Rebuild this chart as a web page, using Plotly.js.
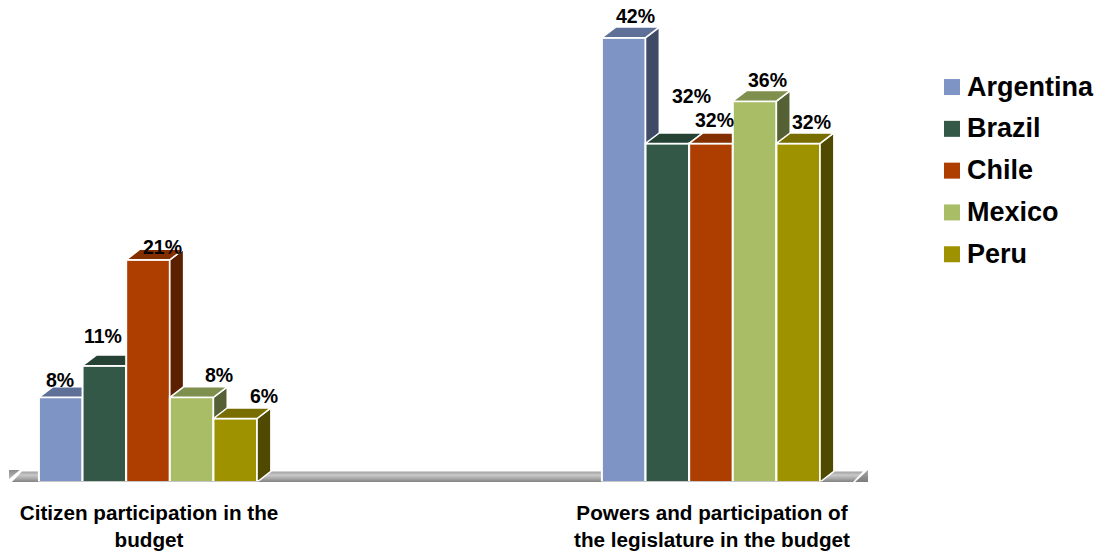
<!DOCTYPE html>
<html>
<head>
<meta charset="utf-8">
<script src="https://cdn.plot.ly/plotly-3.0.1.min.js"></script>
<style>html,body{margin:0;padding:0;background:#fff}#chart{width:1099px;height:552px}</style>
</head>
<body>
<div id="chart"></div>
<script>
// Budget transparency scores by country, two survey dimensions
const categories = ['Citizen participation in the<br>budget', 'Powers and participation of<br>the legislature in the budget'];
const countries = ['Argentina', 'Brazil', 'Chile', 'Mexico', 'Peru'];
const argentina = [8, 42];
const brazil = [11, 32];
const chile = [21, 32];
const mexico = [8, 36];
const peru = [6, 32];
const seriesValues = [argentina, brazil, chile, mexico, peru];

const frontColors = ['#7e94c4', '#335848', '#ae3e00', '#a8bd66', '#9f9200'];
const topColors = ['#5f7098', '#264234', '#842f00', '#7e8f4e', '#786e00'];
const sideColors = ['#3f4b66', '#1a2c23', '#5a2000', '#556135', '#504900'];

// Label nudges in pixels, relative to each bar's top centre
const labelShiftX = [[-1, -1, 14, 27, 29], [12, 24, 4, 13, 13]];
const labelShiftY = [[17, 30, 12.5, 22, 23], [22, 47, 23, 21, 21]];

// Axis scale and extruded-bar geometry
const xRange = [-0.2469, 1.2789];
const yRange = [0, 45.56];
const categoryPositions = categories.map((_, c) => c);
const tickPositions = categoryPositions.map(c => c + 0.0018);
const barWidth = 0.0775;
const depthX = 0.0245;
const depthY = 1.0;
const WHITE = '#ffffff';

const xAxisBase = {range: xRange, type: 'linear', tickmode: 'array', tickvals: tickPositions, ticktext: categories,
  showgrid: false, zeroline: false, showline: false, ticks: ''};
const yAxisBase = {range: yRange, showgrid: false, zeroline: false, showline: false,
  showticklabels: false, ticks: ''};

const traces = [];

// Floor slab: main strip with a vertical gradient and the two end wedges
const floorLeft = xRange[0] + 0.0053;
const floorRight = xRange[1] - 0.0267;
const floorGradient = {type: 'vertical', colorscale: [[0, '#7f7f7f'], [0.3, '#a6a6a6'], [0.65, '#c8c8c8'], [1, '#a0a0a0']]};
traces.push({type: 'scatter', mode: 'lines', xaxis: 'x', yaxis: 'y', showlegend: false, hoverinfo: 'skip',
  x: [floorLeft, floorRight, xRange[1] - 0.0089, xRange[0] + 0.0231, floorLeft],
  y: [0, 0, depthY, depthY, 0],
  fill: 'toself', fillgradient: floorGradient, line: {width: 0}});
traces.push({type: 'scatter', mode: 'lines', xaxis: 'x', yaxis: 'y', showlegend: false, hoverinfo: 'skip',
  x: [xRange[0], xRange[0] + 0.019, xRange[0], xRange[0]],
  y: [1.14, 1.14, 0.28, 1.14],
  fill: 'toself', fillgradient: {type: 'vertical', colorscale: [[0, '#b8b8b8'], [1, '#8c8c8c']]}, line: {width: 0}});
traces.push({type: 'scatter', mode: 'lines', xaxis: 'x', yaxis: 'y', showlegend: false, hoverinfo: 'skip',
  x: [xRange[1] - 0.023, xRange[1], xRange[1], xRange[1] - 0.023],
  y: [0, 0, 1.14, 0],
  fill: 'toself', fillgradient: {type: 'vertical', colorscale: [[0, '#7c7c7c'], [1, '#a8a8a8']]}, line: {width: 0}});

const layout = {
  width: 1099, height: 552,
  margin: {l: 9, r: 231, t: 0, b: 70},
  paper_bgcolor: WHITE, plot_bgcolor: 'rgba(0,0,0,0)',
  font: {family: '"Liberation Sans", Arial, sans-serif', color: '#000000'},
  xaxis: Object.assign({}, xAxisBase, {tickfont: {size: 20.7, color: '#000000', weight: 'bold'}, automargin: false,
     ticklabelstandoff: 16}),
  yaxis: Object.assign({}, yAxisBase),
  showlegend: true,
  legend: {x: 927 / 1099, xanchor: 'left', y: 1 - 61 / 552, yanchor: 'top', xref: 'container', yref: 'container',
    font: {size: 27, color: '#000000', weight: 'bold'}, tracegroupgap: 3.7, traceorder: 'grouped',
    bgcolor: 'rgba(0,0,0,0)', borderwidth: 0, itemclick: false, itemdoubleclick: false},
  bargap: 0,
  annotations: []
};

const overlayAxis = n => {
  layout['xaxis' + n] = Object.assign({}, xAxisBase, {overlaying: 'x', showticklabels: false});
  layout['yaxis' + n] = Object.assign({}, yAxisBase, {overlaying: 'y'});
};

// Each country sits on its own overlaid axis pair so that later bars paint over earlier side faces
seriesValues.forEach((values, i) => {
  const n = i + 2;
  const xa = 'x' + n;
  const ya = 'y' + n;
  overlayAxis(n);
  const left = categoryPositions.map(c => c + (i - 2.5) * barWidth);
  const right = left.map(l => l + barWidth);

  traces.push({type: 'bar', xaxis: xa, yaxis: ya, name: countries[i], showlegend: false,
    x: categoryPositions, y: values, width: barWidth, offset: (i - 2.5) * barWidth,
    marker: {color: frontColors[i], line: {color: WHITE, width: 2}}, hoverinfo: 'skip'});

  // Side and top faces of the extrusion, one closed polygon per category
  const sideX = [], sideY = [], topX = [], topY = [];
  values.forEach((v, c) => {
    sideX.push(right[c], right[c] + depthX, right[c] + depthX, right[c], right[c], null);
    sideY.push(0, depthY, v + depthY, v, 0, null);
    topX.push(left[c], left[c] + depthX, right[c] + depthX, right[c], left[c], null);
    topY.push(v, v + depthY, v + depthY, v, v, null);
  });
  traces.push({type: 'scatter', mode: 'lines', xaxis: xa, yaxis: ya, showlegend: false, hoverinfo: 'skip',
    x: sideX, y: sideY, fill: 'toself', fillcolor: sideColors[i], line: {color: WHITE, width: 1.5}, cliponaxis: false});
  traces.push({type: 'scatter', mode: 'lines', xaxis: xa, yaxis: ya, showlegend: false, hoverinfo: 'skip',
    x: topX, y: topY, fill: 'toself', fillcolor: topColors[i], line: {color: WHITE, width: 1.5}, cliponaxis: false});

  // Legend key for the country
  traces.push({type: 'scatter', mode: 'markers', xaxis: 'x', yaxis: 'y', name: countries[i], legendgroup: countries[i],
    x: [null], y: [null], marker: {symbol: 'square', size: 16, color: frontColors[i]}, hoverinfo: 'skip'});

  values.forEach((v, c) => {
    layout.annotations.push({
      xref: 'x', yref: 'y', x: c + (i - 2) * barWidth, y: v, text: v + '%', showarrow: false,
      xanchor: 'center', yanchor: 'middle', xshift: labelShiftX[c][i], yshift: labelShiftY[c][i],
      font: {size: 19.5, color: '#000000', weight: 'bold'}
    });
  });
});

// Thin front edge of the floor, running under the bars
traces.push({type: 'scatter', mode: 'lines', xaxis: 'x6', yaxis: 'y6', showlegend: false, hoverinfo: 'skip',
  x: [floorLeft, floorRight], y: [0, 0], line: {color: '#8c8c8c', width: 1}, cliponaxis: false});

Plotly.newPlot('chart', traces, layout, {displayModeBar: false, staticPlot: true}).then(gd => {
  // Tighten the gap between the legend swatch and its label, and centre it on the text
  gd.querySelectorAll('.legend .legendsymbols').forEach(g => g.setAttribute('transform', 'translate(5,2)'));
});
</script>
</body>
</html>
